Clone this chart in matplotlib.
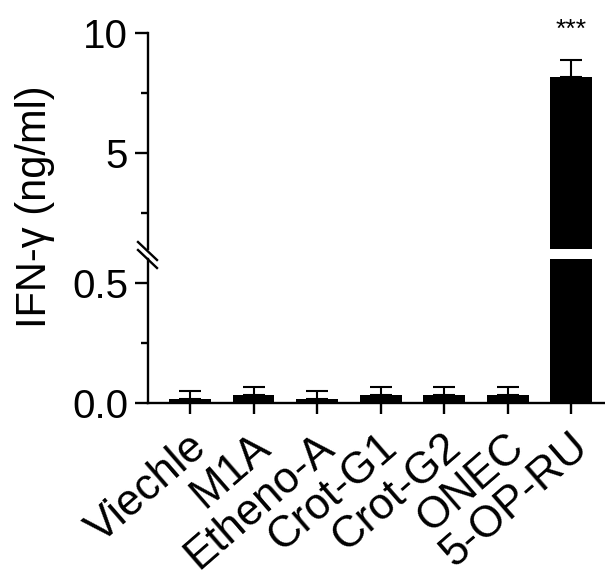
import matplotlib
matplotlib.use("Agg")
import matplotlib.pyplot as plt
from matplotlib.lines import Line2D
from matplotlib.ticker import FixedLocator, NullLocator
from matplotlib.transforms import ScaledTranslation
import numpy as np

# IFN-gamma release per treatment (mean and SEM, ng/ml)
groups = ["Viechle", "M1A", "Etheno-A", "Crot-G1", "Crot-G2", "ONEC", "5-OP-RU"]
means = [0.015, 0.035, 0.015, 0.035, 0.035, 0.035, 8.17]
sems = [0.035, 0.033, 0.035, 0.033, 0.033, 0.033, 0.70]
signif = "***"

# broken y axis: lower segment 0-0.6, upper segment 1-10
lower_range = (0.0, 0.6)
upper_range = (1.0, 10.0)
lower_major = [0.0, 0.5]
lower_labels = ["0.0", "0.5"]
lower_minor = [0.25]
upper_major = [5, 10]
upper_labels = ["5", "10"]
upper_minor = [2.5, 7.5]

plt.rcParams['font.family'] = ['Liberation Sans', 'DejaVu Sans']

W, H = 605, 572
DPI = 100
fig = plt.figure(figsize=(W / DPI, H / DPI), dpi=DPI)


def fx(px):
    return px / W


def fy(py):
    return 1 - py / H


LEFT, RIGHT = 148, 605
TOP_Y0, TOP_Y1 = 33, 249
BOT_Y0, BOT_Y1 = 259, 403

ax_top = fig.add_axes([fx(LEFT), fy(TOP_Y1), (RIGHT - LEFT) / W, (TOP_Y1 - TOP_Y0) / H])
ax_bot = fig.add_axes([fx(LEFT), fy(BOT_Y1), (RIGHT - LEFT) / W, (BOT_Y1 - BOT_Y0) / H])

x = np.arange(len(groups))
lw = 1.7
bar_w = 0.66
tick_fs = 29
xlab_fs = 31.5

for ax in (ax_top, ax_bot):
    ax.bar(x, means, width=bar_w, color="black", zorder=2)
    ax.errorbar(x, means, yerr=[np.zeros(len(sems)), sems], fmt="none",
                ecolor="black", elinewidth=1.5, capsize=7.9, capthick=1.5, zorder=3)
    ax.set_xlim(-0.66, 6.53)
    for s in ("top", "right"):
        ax.spines[s].set_visible(False)
    for s in ("left", "bottom"):
        ax.spines[s].set_linewidth(lw)
    ax.tick_params(axis="y", which="major", length=9.4, width=lw, pad=5,
                   labelsize=tick_fs)
    ax.tick_params(axis="y", which="minor", length=5, width=lw)

ax_top.set_ylim(*upper_range)
ax_top.yaxis.set_major_locator(FixedLocator(upper_major))
ax_top.set_yticklabels(upper_labels)
ax_top.yaxis.set_minor_locator(FixedLocator(upper_minor))
ax_top.spines["bottom"].set_visible(False)
ax_top.xaxis.set_major_locator(NullLocator())

ax_bot.set_ylim(*lower_range)
ax_bot.yaxis.set_major_locator(FixedLocator(lower_major))
ax_bot.set_yticklabels(lower_labels)
ax_bot.yaxis.set_minor_locator(FixedLocator(lower_minor))
ax_bot.set_xticks(x)
ax_bot.set_xticklabels(groups, rotation=41, ha="right", va="baseline",
                       rotation_mode="anchor", fontsize=xlab_fs)
ax_bot.tick_params(axis="x", length=8, width=lw, pad=26)
shift = ScaledTranslation(0.19, 0, fig.dpi_scale_trans)
for lab in ax_bot.get_xticklabels():
    lab.set_transform(lab.get_transform() + shift)

# significance marker above the last bar
ax_top.text(x[-1], 10.12, signif, ha="center", va="center", fontsize=19,
            clip_on=False)

# axis-break marks
for y0 in (242, 250):
    fig.add_artist(Line2D([fx(138), fx(157)], [fy(y0), fy(y0 + 18)],
                          transform=fig.transFigure, color="black", lw=lw))

fig.text(fx(35), fy(207), "IFN-γ (ng/ml)", rotation=90, ha="center",
         va="center", fontsize=30)

fig.savefig("out.png", dpi=DPI)
